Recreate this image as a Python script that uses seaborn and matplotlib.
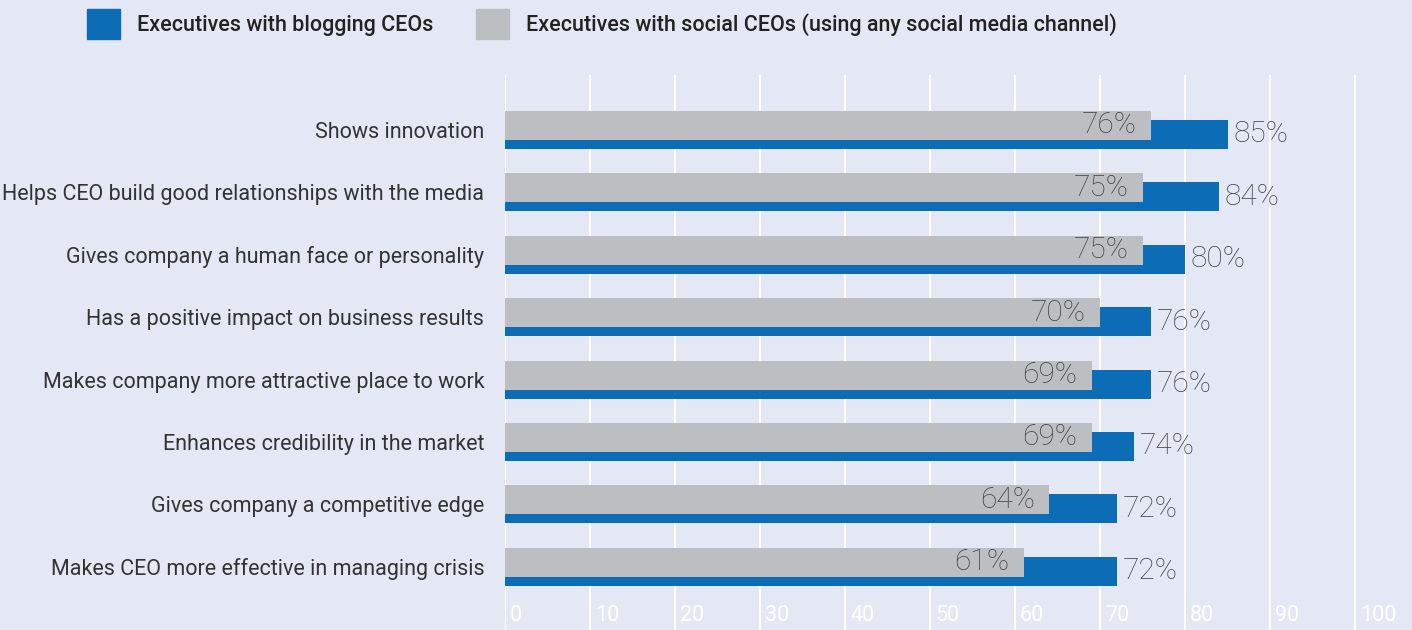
import pandas as pd
import seaborn as sns
import matplotlib.pyplot as plt
from matplotlib.patches import Patch

# data
statements = [
    "Shows innovation",
    "Helps CEO build good relationships with the media",
    "Gives company a human face or personality",
    "Has a positive impact on business results",
    "Makes company more attractive place to work",
    "Enhances credibility in the market",
    "Gives company a competitive edge",
    "Makes CEO more effective in managing crisis",
]
blogging = [85, 84, 80, 76, 76, 74, 72, 72]
social = [76, 75, 75, 70, 69, 69, 64, 61]
x_ticks = list(range(0, 101, 10))
series_names = ["Executives with blogging CEOs",
                "Executives with social CEOs (using any social media channel)"]

BLUE = '#0c6cb6'
GREY = '#bdbec2'
BG = '#e4e8f4'

sns.set_style("white")
plt.rcParams['font.family'] = ['Roboto', 'DejaVu Sans']

df = pd.DataFrame({'statement': statements, 'blogging': blogging, 'social': social})
n = len(df)

fig = plt.figure(figsize=(14.12, 6.3), dpi=100, facecolor=BG)
ax = fig.add_axes([505 / 1412, 0, 907 / 1412, 555 / 630])
ax.set_facecolor(BG)

bar_w = 0.465
shift = 0.072
# blue bars behind, grey in front, shifted up/down a bit
sns.barplot(data=df, x='blogging', y='statement', color=BLUE, width=bar_w,
            saturation=1, errorbar=None, linewidth=0, ax=ax, zorder=2)
sns.barplot(data=df, x='social', y='statement', color=GREY, width=bar_w,
            saturation=1, errorbar=None, linewidth=0, ax=ax, zorder=3)
blue_bars = ax.patches[:n]
grey_bars = ax.patches[n:2 * n]
for p in blue_bars:
    p.set_y(p.get_y() + shift)
for p in grey_bars:
    p.set_y(p.get_y() - shift)

# value labels
val_font = dict(fontsize=21.5, color='#444444', fontweight='light', family=['Roboto', 'DejaVu Sans'])
for p, v in zip(grey_bars, social):
    ax.annotate(f"{v}%", xy=(v, p.get_y() + p.get_height() / 2), xytext=(-10, 0),
                textcoords='offset points', ha='right', va='center', **val_font)
for p, v in zip(blue_bars, blogging):
    ax.annotate(f"{v}%", xy=(v, p.get_y() + p.get_height() / 2), xytext=(4, 0),
                textcoords='offset points', ha='left', va='center', **val_font)

ax.set_xlim(0, 907 / 8.5)
ax.set_ylim(n - 1 + 1.013, -0.881)
ax.set_xticks(x_ticks)
ax.grid(axis='x', color='white', lw=1.5)
ax.grid(axis='y', visible=False)
ax.set_axisbelow(True)
ax.tick_params(axis='x', length=0, labelbottom=False)
ax.tick_params(axis='y', length=0, pad=15, labelsize=15.5, labelcolor='#333333')
for t in x_ticks:
    ax.text(t + 0.6, 0.007, str(t), transform=ax.get_xaxis_transform(),
            ha='left', va='bottom', fontsize=15.5, color='white')
ax.set_xlabel("")
ax.set_ylabel("")
sns.despine(ax=ax, left=True, bottom=True)

handles = [Patch(color=BLUE, label=series_names[0]), Patch(color=GREY, label=series_names[1])]
fig.legend(handles=handles, loc='upper left', bbox_to_anchor=(87 / 1412, 1 - 9 / 630),
           ncol=2, frameon=False, borderpad=0, borderaxespad=0,
           handlelength=1.53, handleheight=1.75, handletextpad=0.79, columnspacing=2.0,
           labelcolor='#222222', prop={'size': 15.5, 'weight': 'medium'})

plt.savefig("out.png", dpi=100, facecolor=BG)
